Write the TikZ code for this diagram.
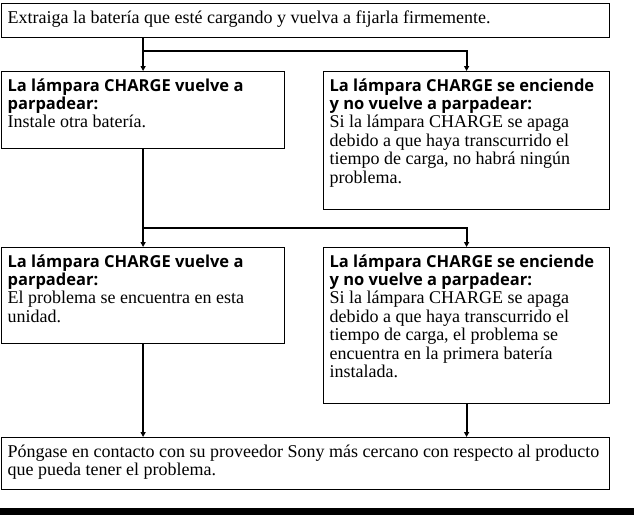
\documentclass[tikz,border=0pt]{standalone}
\usepackage{fontspec}
\setmainfont{Liberation Serif}
\newfontfamily\headfont{Open Sans}
\usetikzlibrary{arrows.meta}
\tikzset{
  box/.style = {draw, line width = 1.2pt, anchor = north west, inner xsep = 6pt, inner ysep = 4pt},
  flow/.style = {line width = 2pt, -{Triangle[length = 5pt, width = 5pt]}}
}
\newcommand{\boxtext}[3]{\parbox[t][#2][t]{#1}{\raggedright\fontsize{18}{18.4}\selectfont\rule{0pt}{15.5pt}#3}}
\newcommand{\lamphead}[1]{{\headfont\bfseries\fontsize{16.5}{18.4}\selectfont #1}}

\begin{document}
\begin{tikzpicture}[x = 1pt, y = -1pt]
\useasboundingbox (0, 0) rectangle (634, 515);
\node at (1, 3) [name=top, box] {\boxtext{596pt}{26pt}{Extraiga la batería que esté cargando y vuelva a fijarla firmemente.}};
\node at (1, 71) [name=l1, box] {\boxtext{271pt}{69pt}{\lamphead{La lámpara CHARGE vuelve a\\ parpadear:}\\ Instale otra batería.}};
\node at (323, 71) [name=r1, box] {\boxtext{274pt}{130pt}{\lamphead{La lámpara CHARGE se enciende\\ y no vuelve a parpadear:}\\ Si la lámpara CHARGE se apaga\\ debido a que haya transcurrido el\\ tiempo de carga, no habrá ningún\\ problema.}};
\node at (1, 247) [name=l2, box] {\boxtext{271pt}{88pt}{\lamphead{La lámpara CHARGE vuelve a\\ parpadear:}\\ El problema se encuentra en esta\\ unidad.}};
\node at (323, 247) [name=r2, box] {\boxtext{274pt}{148pt}{\lamphead{La lámpara CHARGE se enciende\\ y no vuelve a parpadear:}\\ Si la lámpara CHARGE se apaga\\ debido a que haya transcurrido el\\ tiempo de carga, el problema se\\ encuentra en la primera batería\\ instalada.}};
\node at (1, 437) [name=bot, box] {\boxtext{596pt}{44pt}{Póngase en contacto con su proveedor Sony más cercano con respecto al producto\\ que pueda tener el problema.}};
\coordinate (j1) at (l1.north |- 0, 51);
\coordinate (j2) at (l1.south |- 0, 228);
\draw [line width = 2pt] (top.south -| l1.north) -- (j1);
\draw [flow] (j1) -- (l1.north);
\draw [flow] (j1) -| (r1.north);
\draw [flow] (l1.south) -- (l2.north);
\draw [flow] (j2) -| (r2.north);
\draw [flow] (l2.south) -- (l2.south |- bot.north);
\draw [flow] (r2.south) -- (r2.south |- bot.north);
\fill (0, 508) rectangle (634, 515);
\end{tikzpicture}
\end{document}
